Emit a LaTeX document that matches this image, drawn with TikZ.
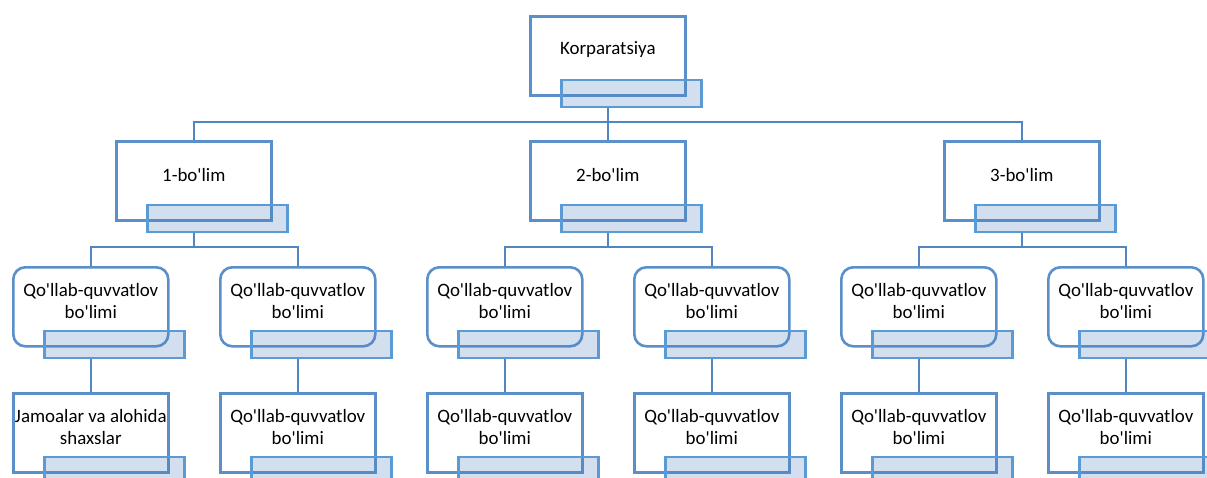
\documentclass[tikz,border=0pt]{standalone}
\usepackage{fontspec}
\setmainfont{Carlito}[Ligatures=TeXOff]
\definecolor{boxline}{HTML}{5A8FC9}
\definecolor{barline}{HTML}{5B9BD5}
\definecolor{barfill}{HTML}{4F81BD}
\definecolor{conn}{HTML}{5086C1}
\usetikzlibrary{calc}
\tikzset{
  unitbox/.style={draw=boxline, line width=2.6pt, fill=white, minimum width=155pt, minimum height=79pt, inner sep=0pt, anchor=north west},
  roundbox/.style={unitbox, rounded corners=12pt},
  barbox/.style={draw=barline, line width=2.6pt, fill=barfill, fill opacity=0.25, draw opacity=1, minimum width=140pt, minimum height=27pt, inner sep=0pt, anchor=north west},
  lbl/.style={font=\fontsize{18.9}{21.5}\selectfont, align=center, inner sep=0pt, text=black},
  link/.style={draw=conn, line width=2.6pt}
}
\newcommand{\orgunit}[5]{%
  \node[#4] (#1) at (#2,#3) {};
  \node[barbox] (#1bar) at ($(#1.south west)+(31,-18)$) {};
  \node[lbl] (#1txt) at ($(#1.north)!0.5!(#1.north |- #1bar.north)+(0,3)$) {#5};
}
\begin{document}
\begin{tikzpicture}[x=1pt,y=-1pt]
\useasboundingbox (0,0) rectangle (1207,477);
\clip (0,0) rectangle (1207,477);
% level 1
\orgunit{top}{529}{15}{unitbox}{Korparatsiya}
% level 2
\orgunit{d1}{115}{140}{unitbox}{1-bo'lim}
\orgunit{d2}{529}{140}{unitbox}{2-bo'lim}
\orgunit{d3}{943}{140}{unitbox}{3-bo'lim}
% level 3
\orgunit{a1}{12}{266}{roundbox}{Qo'llab-quvvatlov\\bo'limi}
\orgunit{a2}{219}{266}{roundbox}{Qo'llab-quvvatlov\\bo'limi}
\orgunit{b1}{426}{266}{roundbox}{Qo'llab-quvvatlov\\bo'limi}
\orgunit{b2}{633}{266}{roundbox}{Qo'llab-quvvatlov\\bo'limi}
\orgunit{c1}{840}{266}{roundbox}{Qo'llab-quvvatlov\\bo'limi}
\orgunit{c2}{1047}{266}{roundbox}{Qo'llab-quvvatlov\\bo'limi}
% level 4
\orgunit{a1s}{12}{392}{unitbox}{Jamoalar va alohida\\shaxslar}
\orgunit{a2s}{219}{392}{unitbox}{Qo'llab-quvvatlov\\bo'limi}
\orgunit{b1s}{426}{392}{unitbox}{Qo'llab-quvvatlov\\bo'limi}
\orgunit{b2s}{633}{392}{unitbox}{Qo'llab-quvvatlov\\bo'limi}
\orgunit{c1s}{840}{392}{unitbox}{Qo'llab-quvvatlov\\bo'limi}
\orgunit{c2s}{1047}{392}{unitbox}{Qo'llab-quvvatlov\\bo'limi}
% bus coordinates
\coordinate (bus1) at (0,122);
\coordinate (bus2) at (0,247);
% connectors level1 -> level2
\draw[link] (top.south |- topbar.south) -- (top.south |- bus1) -| (d1.north);
\draw[link] (top.south |- topbar.south) -- (top.south |- bus1) -| (d2.north);
\draw[link] (top.south |- topbar.south) -- (top.south |- bus1) -| (d3.north);
% level2 -> level3
\foreach \p/\x/\y in {d1/a1/a2, d2/b1/b2, d3/c1/c2}{
  \draw[link] (\p.south |- \p bar.south) -- (\p.south |- bus2) -| (\x.north);
  \draw[link] (\p.south |- \p bar.south) -- (\p.south |- bus2) -| (\y.north);
}
% level3 -> level4
\foreach \p in {a1,a2,b1,b2,c1,c2}{
  \draw[link] (\p.south |- \p bar.south) -- (\p s.north);
}
\end{tikzpicture}
\end{document}
